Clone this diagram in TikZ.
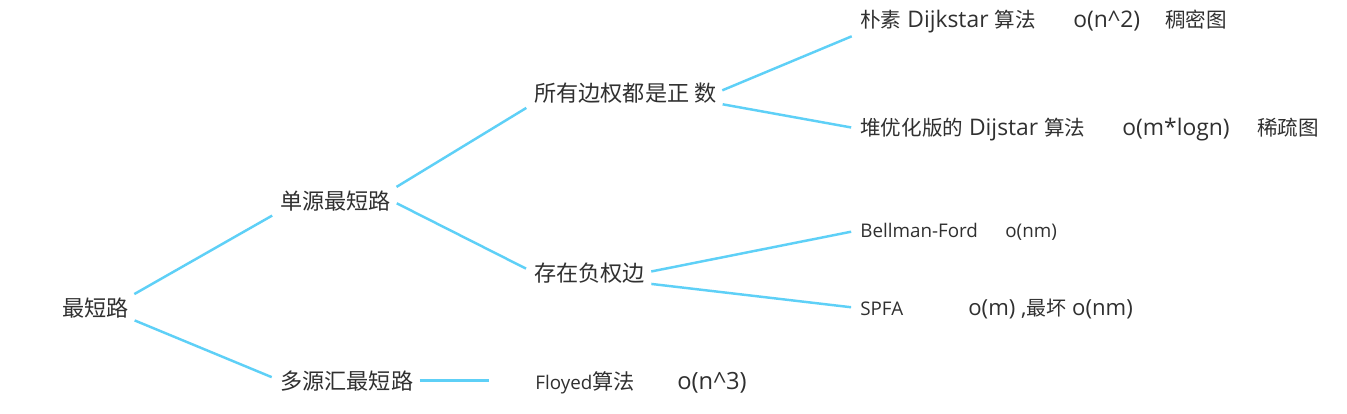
\documentclass[tikz,border=0pt]{standalone}
\usepackage{fontspec}
\setmainfont{Open Sans}
\newfontfamily\zh[Scale=0.9]{Noto Sans CJK SC}
\usepackage{tikz}
\definecolor{linkblue}{RGB}{94,208,247}
\definecolor{ink}{RGB}{48,48,48}
\tikzset{
  item/.style={anchor=base west,inner sep=0pt,text=ink},
  topic/.style={item,font=\fontsize{14}{16}\selectfont\zh},
  leaf/.style={item,font=\fontsize{13}{16}\selectfont},
  minor/.style={item,font=\fontsize{10.7}{13}\selectfont},
  link/.style={draw=linkblue,line width=1.4pt,shorten <=0.12cm,shorten >=0.18cm}
}
\begin{document}
\begin{tikzpicture}[x=0.02cm,y=-0.02cm]
    \fill [white] (0,0) rectangle (1347,413);
    \node (r) [topic] at (62,316) {最短路};
    \node (s) [topic] at (280,209) {单源最短路};
    \node (m) [topic] at (280,389) {多源汇最短路};
    \node (p) [topic] at (534,101) {所有边权都是正 数};
    \node (n) [topic] at (534,281) {存在负权边};
    \node (d) [leaf] at (860,27) {{\zh 朴素} Dijkstar {\zh 算法}};
    \node (d2) [leaf] at (1073,27) {o(n\textasciicircum 2)};
    \node (d3) [leaf] at (1165,27) {\zh 稠密图};
    \node (h) [leaf] at (860,135) {{\zh 堆优化版的} Dijstar {\zh 算法}};
    \node (h2) [leaf] at (1122,135) {o(m*logn)};
    \node (h3) [leaf] at (1257,135) {\zh 稀疏图};
    \node (b) [minor] at (860,237) {Bellman-Ford};
    \node (b2) [minor] at (1005,237) {o(nm)};
    \node (f) [minor] at (860,315) {SPFA};
    \node (f2) [leaf,font=\fontsize{12.6}{16}\selectfont] at (968,315) {o(m) ,{\zh 最坏} o(nm)};
    \node (y) [minor] at (535,389) {Floyed{\fontsize{13.4}{16}\selectfont\zh 算法}};
    \node (y2) [leaf,font=\fontsize{13.5}{16}\selectfont] at (677,389) {o(n\textasciicircum 3)};
    \draw (r.north east) edge [link] (s.south west);
    \draw (r.south east) edge [link] (m.west);
    \draw (s.north east) edge [link] (p.south west);
    \draw (s.east) edge [link] (n.west);
    \draw (p.east) edge [link] (d.south west);
    \draw (p.south east) edge [link] (h.west);
    \draw (n.east) edge [link] (b.west);
    \draw (n.south east) edge [link] (f.west);
    \draw (m.east) edge [link,shorten >=0.92cm] (m.east -| y.west);
  \end{tikzpicture}
\end{document}
